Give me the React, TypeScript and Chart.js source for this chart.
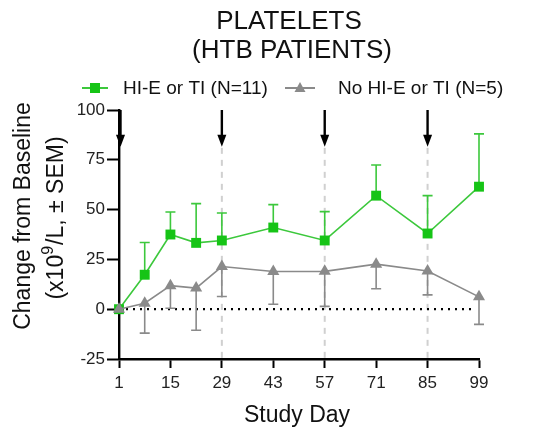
import React, { useEffect, useRef } from "react";
import { Chart, registerables } from "chart.js";

Chart.register(...registerables);

const days = [1, 8, 15, 22, 29, 43, 57, 71, 85, 99];
const hieMean = [0, 17.3, 37.5, 33.3, 34.5, 41, 34.5, 57, 38, 61.5];
const hieUpper = [0, 33.5, 48.8, 53, 48.3, 52.5, 49, 72.4, 57, 88];
const noMean = [0, 3, 11.8, 10.6, 21.4, 18.9, 19, 22.6, 19.2, 6.2];
const noLower = [0, -12, 0.5, -10.6, 6.4, 2.5, 1.4, 10.3, 7.2, -7.6];
const xTicks = [1, 15, 29, 43, 57, 71, 85, 99];
const yTicks = [-25, 0, 25, 50, 75, 100];
const doseDays = [1, 29, 57, 85];
const titleLines = ["PLATELETS", "(HTB PATIENTS)"];
const legendLabels = ["HI-E or TI (N=11)", "No HI-E or TI (N=5)"];
const yTitleLine1 = "Change from Baseline";
const yTitleLine2Parts = ["(x10", "9", "/L, ± SEM)"];
const xTitle = "Study Day";

const GREEN = "#16c416";
const GREEN_LINE = "#3cc83c";
const GRAY = "#8a8a8a";
const FONT = "'Liberation Sans', Arial, sans-serif";

export default function App() {
  const ref = useRef<HTMLCanvasElement>(null);
  useEffect(() => {
    const canvas = ref.current!;
    const overlay = {
      id: "overlay",
      beforeDatasetsDraw(chart: any) {
        const { ctx, scales } = chart;
        const xs = scales.x;
        const ys = scales.y;
        const area = chart.chartArea;
        ctx.save();
        // dashed vertical lines
        ctx.strokeStyle = "#d0d0d0";
        ctx.lineWidth = 2;
        ctx.setLineDash([6, 6]);
        doseDays.slice(1).forEach((d) => {
          const px = xs.getPixelForValue(d);
          ctx.beginPath();
          ctx.moveTo(px, ys.getPixelForValue(81));
          ctx.lineTo(px, area.bottom);
          ctx.stroke();
        });
        // zero dotted line
        ctx.strokeStyle = "#000";
        ctx.lineWidth = 2.2;
        ctx.setLineDash([2, 5]);
        ctx.beginPath();
        ctx.moveTo(xs.getPixelForValue(1), ys.getPixelForValue(0));
        ctx.lineTo(xs.getPixelForValue(97.5), ys.getPixelForValue(0));
        ctx.stroke();
        ctx.setLineDash([]);
        // error bars
        const bar = (x: number, y0: number, y1: number, color: string) => {
          const px = xs.getPixelForValue(x);
          const p0 = ys.getPixelForValue(y0);
          const p1 = ys.getPixelForValue(y1);
          ctx.strokeStyle = color;
          ctx.lineWidth = 1.6;
          ctx.beginPath();
          ctx.moveTo(px, p0);
          ctx.lineTo(px, p1);
          ctx.moveTo(px - 5, p1);
          ctx.lineTo(px + 5, p1);
          ctx.stroke();
        };
        days.forEach((d, i) => {
          if (i === 0) return;
          bar(d, noMean[i], noLower[i], GRAY);
          bar(d, hieMean[i], hieUpper[i], GREEN_LINE);
        });
        ctx.restore();
      },
      afterDraw(chart: any) {
        const { ctx, scales } = chart;
        const xs = scales.x;
        const ys = scales.y;
        const area = chart.chartArea;
        ctx.save();
        // arrows
        ctx.fillStyle = "#000";
        ctx.strokeStyle = "#000";
        doseDays.forEach((d, i) => {
          const px = xs.getPixelForValue(d) + (i === 0 ? 1.5 : 0);
          const top = ys.getPixelForValue(100);
          const tip = ys.getPixelForValue(81.5);
          ctx.lineWidth = 2.4;
          ctx.beginPath();
          ctx.moveTo(px, top);
          ctx.lineTo(px, tip - 8);
          ctx.stroke();
          ctx.beginPath();
          ctx.moveTo(px - 4.5, tip - 12);
          ctx.lineTo(px + 4.5, tip - 12);
          ctx.lineTo(px, tip);
          ctx.closePath();
          ctx.fill();
        });
        // title
        ctx.fillStyle = "#111";
        ctx.textAlign = "center";
        ctx.textBaseline = "middle";
        ctx.font = `26px ${FONT}`;
        ctx.fillText(titleLines[0], 289, 22);
        ctx.fillText(titleLines[1], 292, 51);
        // legend
        ctx.font = `19px ${FONT}`;
        ctx.textAlign = "left";
        const ly = 88;
        ctx.strokeStyle = GREEN_LINE;
        ctx.lineWidth = 2;
        ctx.beginPath();
        ctx.moveTo(82, ly);
        ctx.lineTo(108, ly);
        ctx.stroke();
        ctx.fillStyle = GREEN;
        ctx.fillRect(90, ly - 5, 10, 10);
        ctx.fillStyle = "#111";
        ctx.fillText(legendLabels[0], 123, ly + 1);
        ctx.strokeStyle = GRAY;
        ctx.beginPath();
        ctx.moveTo(285, ly);
        ctx.lineTo(315, ly);
        ctx.stroke();
        ctx.fillStyle = GRAY;
        ctx.beginPath();
        ctx.moveTo(300, ly - 6);
        ctx.lineTo(305.5, ly + 4);
        ctx.lineTo(294.5, ly + 4);
        ctx.closePath();
        ctx.fill();
        ctx.fillStyle = "#111";
        ctx.fillText(legendLabels[1], 338, ly + 1);
        // y title line 1
        ctx.save();
        ctx.font = `23px ${FONT}`;
        ctx.textAlign = "center";
        ctx.translate(24, 216);
        ctx.rotate(-Math.PI / 2);
        ctx.fillText(yTitleLine1, 0, 0);
        ctx.restore();
        // y title line 2 with superscript
        ctx.save();
        ctx.translate(57, 218);
        ctx.rotate(-Math.PI / 2);
        ctx.textAlign = "left";
        const big = `23px ${FONT}`;
        const small = `16px ${FONT}`;
        ctx.font = big;
        const w0 = ctx.measureText(yTitleLine2Parts[0]).width;
        const w2 = ctx.measureText(yTitleLine2Parts[2]).width;
        ctx.font = small;
        const w1 = ctx.measureText(yTitleLine2Parts[1]).width + 1;
        const total = w0 + w1 + w2;
        let cx = -total / 2;
        ctx.font = big;
        ctx.fillText(yTitleLine2Parts[0], cx, 0);
        cx += w0;
        ctx.font = small;
        ctx.fillText(yTitleLine2Parts[1], cx, -8);
        cx += w1;
        ctx.font = big;
        ctx.fillText(yTitleLine2Parts[2], cx, 0);
        ctx.restore();
        // x title
        ctx.font = `23px ${FONT}`;
        ctx.textAlign = "center";
        ctx.fillText(xTitle, (area.left + area.right) / 2 - 2, 416);
        ctx.restore();
      },
    };

    const chart = new Chart(canvas, {
      type: "line",
      data: {
        datasets: [
          {
            label: legendLabels[1],
            data: days.map((d, i) => ({ x: d, y: noMean[i] })),
            borderColor: GRAY,
            backgroundColor: GRAY,
            borderWidth: 1.6,
            pointStyle: "triangle",
            pointRadius: 7,
            pointBorderWidth: 0,
            clip: false as any,
          },
          {
            label: legendLabels[0],
            data: days.map((d, i) => ({ x: d, y: hieMean[i] })),
            borderColor: GREEN_LINE,
            backgroundColor: GREEN,
            borderWidth: 1.6,
            pointStyle: "rect",
            pointRadius: 7,
            pointBorderWidth: 0,
            clip: false as any,
          },
        ],
      },
      options: {
        animation: false,
        responsive: false,
        maintainAspectRatio: false,
        layout: { padding: { top: 110, right: 61, left: 0, bottom: 0 } },
        plugins: {
          legend: { display: false },
          title: { display: false },
          tooltip: { enabled: false },
        },
        scales: {
          x: {
            type: "linear",
            min: 1,
            max: 99,
            afterBuildTicks: (s: any) => {
              s.ticks = xTicks.map((v) => ({ value: v }));
            },
            afterFit: (s: any) => {
              s.height = 73;
            },
            grid: {
              drawOnChartArea: false,
              drawTicks: true,
              tickLength: 9,
              tickWidth: 2,
              tickColor: "#000",
            },
            border: { color: "#000", width: 2.4 },
            ticks: {
              autoSkip: false,
              maxRotation: 0,
              padding: 5,
              color: "#222",
              font: { family: FONT, size: 17 },
            },
          },
          y: {
            type: "linear",
            min: -25,
            max: 100,
            afterBuildTicks: (s: any) => {
              s.ticks = yTicks.map((v) => ({ value: v }));
            },
            afterFit: (s: any) => {
              s.width = 119;
            },
            grid: {
              drawOnChartArea: false,
              drawTicks: true,
              tickLength: 12,
              tickWidth: 2,
              tickColor: "#000",
            },
            border: { color: "#000", width: 2.4 },
            ticks: {
              padding: 2,
              color: "#222",
              font: { family: FONT, size: 17 },
            },
          },
        },
      },
      plugins: [overlay],
    } as any);
    return () => chart.destroy();
  }, []);

  return (
    <div style={{ position: "fixed", left: 0, top: 0, width: 540, height: 432, background: "#fff" }}>
      <canvas ref={ref} width={540} height={432} style={{ width: 540, height: 432 }} />
    </div>
  );
}
